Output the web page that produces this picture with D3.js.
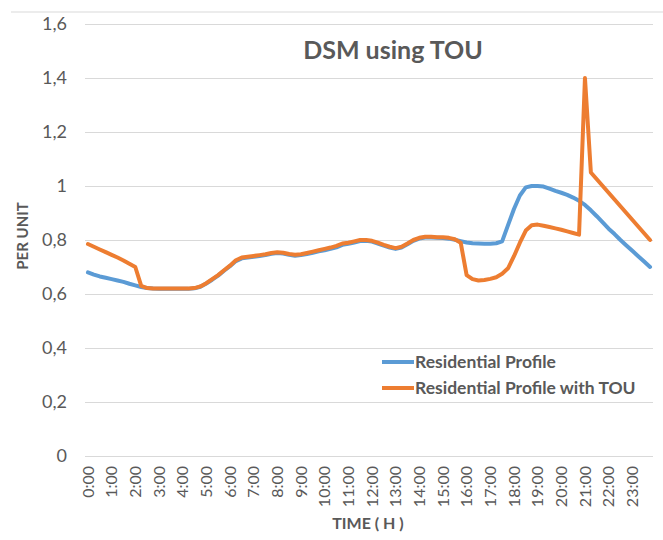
<!DOCTYPE html>
<html><head><meta charset="utf-8">
<script src="https://cdn.jsdelivr.net/npm/d3@7"></script>
<style>
body{margin:0;background:#fff;}
svg{display:block;font-family:Lato,"Open Sans",sans-serif;}
</style></head>
<body><svg id="c" width="663" height="540"></svg>
<script>
// 96 quarter-hour samples, 0:00 .. 23:45
const hourLabels = d3.range(24).map(h => h + ":00");
const yTicks = [0, 0.2, 0.4, 0.6, 0.8, 1.0, 1.2, 1.4, 1.6];
const seriesNames = ["Residential Profile", "Residential Profile with TOU"];
const residential = [
  0.680,0.672,0.665,0.660,0.655,0.650,0.645,0.638,0.632,0.626,0.622,0.620,
  0.619,0.619,0.619,0.619,0.619,0.619,0.621,0.627,0.639,0.653,0.668,0.686,
  0.703,0.722,0.732,0.735,0.738,0.741,0.744,0.749,0.752,0.750,0.745,0.742,
  0.744,0.748,0.753,0.758,0.762,0.767,0.773,0.782,0.786,0.791,0.796,0.797,
  0.794,0.787,0.779,0.772,0.767,0.772,0.784,0.797,0.805,0.809,0.809,0.808,
  0.807,0.805,0.801,0.796,0.791,0.788,0.787,0.786,0.786,0.788,0.795,0.855,
  0.915,0.965,0.995,1.000,1.000,0.998,0.990,0.982,0.975,0.967,0.957,0.945,
  0.930,0.910,0.888,0.865,0.842,0.822,0.800,0.780,0.760,0.740,0.720,0.700
];
const withTOU = [
  0.785,0.775,0.765,0.755,0.745,0.735,0.724,0.712,0.700,0.630,0.622,0.620,
  0.620,0.620,0.620,0.620,0.620,0.620,0.622,0.628,0.640,0.655,0.670,0.688,
  0.705,0.725,0.735,0.738,0.741,0.744,0.747,0.752,0.755,0.753,0.748,0.745,
  0.747,0.752,0.757,0.762,0.767,0.772,0.778,0.787,0.790,0.795,0.800,0.800,
  0.797,0.790,0.782,0.775,0.770,0.775,0.787,0.800,0.808,0.812,0.812,0.810,
  0.810,0.808,0.803,0.790,0.670,0.655,0.650,0.652,0.656,0.662,0.675,0.695,
  0.740,0.790,0.835,0.855,0.857,0.853,0.848,0.843,0.838,0.832,0.826,0.820,
  1.400,1.050,1.025,1.000,0.975,0.950,0.925,0.900,0.875,0.850,0.825,0.800
];
const colors = ["#5B9BD5", "#ED7D31"];

const svg = d3.select("#c");
const mLeft = 85, mRight = 653, mTop = 24, mBottom = 456;
const x = d3.scaleBand().domain(d3.range(96)).range([mLeft, mRight]).paddingInner(0).paddingOuter(0);
const xc = i => x(i) + x.bandwidth() / 2;
const y = d3.scaleLinear().domain([0, 1.6]).range([mBottom, mTop]);
const loc = d3.formatLocale({decimal: ",", thousands: ".", grouping: [3], currency: ["", ""]});
const fmt = loc.format("~g");

// top border line
svg.append("line").attr("x1", 11).attr("x2", 663).attr("y1", 12).attr("y2", 12)
  .attr("stroke", "#D9D9D9").attr("stroke-width", 1);

// gridlines + y labels
const ya = svg.append("g").attr("transform", `translate(${mLeft},0)`)
  .call(d3.axisLeft(y).tickValues(yTicks).tickFormat(fmt).tickSize(-(mRight - mLeft)).tickPadding(18));
ya.select(".domain").remove();
ya.selectAll(".tick line").attr("stroke", "#D9D9D9").attr("stroke-width", 1);
ya.selectAll(".tick text").attr("fill", "#595959").style("font-size", "18px").style("font-family", "Lato");

// x labels
const xa = svg.append("g").attr("transform", `translate(0,${mBottom})`)
  .call(d3.axisBottom(x).tickValues(d3.range(0, 96, 4)).tickFormat(i => hourLabels[i / 4]).tickSize(0));
xa.select(".domain").remove();
xa.selectAll(".tick text")
  .attr("fill", "#595959").style("font-size", "16px").style("font-family", "Lato")
  .attr("transform", "rotate(-90)").attr("text-anchor", "end")
  .attr("x", -10).attr("y", 0).attr("dy", "0.35em");

// lines
const line = d3.line().x((d, i) => xc(i)).y(d => y(d));
[residential, withTOU].forEach((s, k) => {
  svg.append("path").datum(s).attr("d", line).attr("fill", "none")
    .attr("stroke", colors[k]).attr("stroke-width", 4)
    .attr("stroke-linejoin", "round").attr("stroke-linecap", "round");
});

// title
svg.append("text").attr("x", 393).attr("y", 59).attr("text-anchor", "middle")
  .attr("fill", "#595959").style("font-size", "25px").style("font-weight", "bold")
  .text("DSM using TOU");

// axis titles
svg.append("text").attr("x", 368).attr("y", 529).attr("text-anchor", "middle")
  .attr("fill", "#595959").style("font-size", "16px").style("font-weight", "bold")
  .text("TIME ( H )");
svg.append("text").attr("transform", "translate(28,236) rotate(-90)").attr("text-anchor", "middle")
  .attr("fill", "#595959").style("font-size", "15px").style("font-weight", "bold")
  .text("PER UNIT");

// legend
const lg = svg.append("g");
seriesNames.forEach((n, k) => {
  const yy = 362 + k * 26;
  lg.append("line").attr("x1", 382).attr("x2", 414).attr("y1", yy).attr("y2", yy)
    .attr("stroke", colors[k]).attr("stroke-width", 4);
  lg.append("text").attr("x", 415).attr("y", yy).attr("dy", "0.35em")
    .attr("fill", "#595959").style("font-size", "17.5px").style("font-weight", "bold")
    .text(n);
});
</script></body></html>
